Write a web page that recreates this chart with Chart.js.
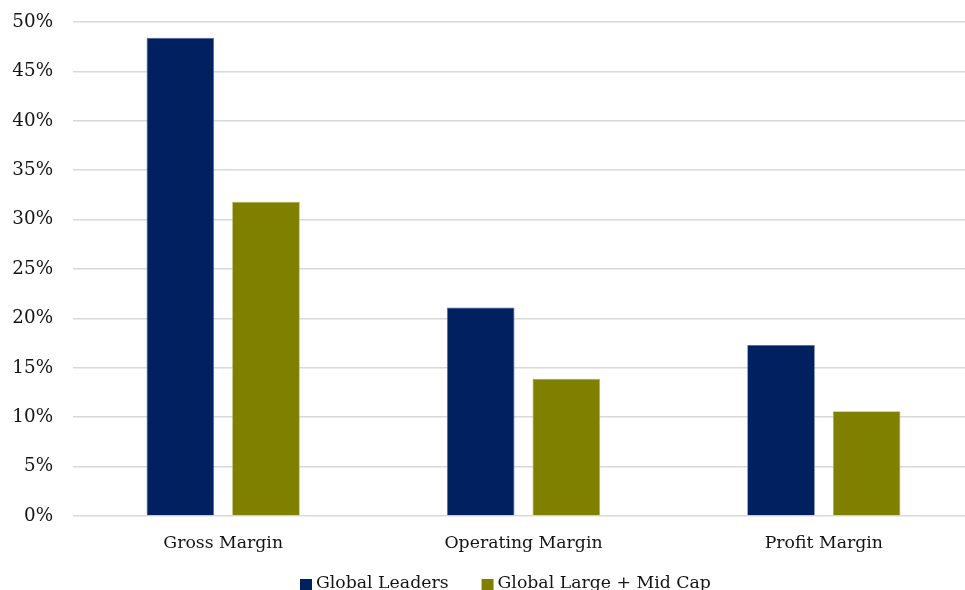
<!DOCTYPE html>
<html>
<head>
<meta charset="utf-8">
<script src="https://cdn.jsdelivr.net/npm/chart.js@4"></script>
<style>
  html, body { margin:0; padding:0; background:#fff; overflow:hidden; width:965px; height:590px; }
  #wrap { width:975px; height:590px; }
</style>
</head>
<body>
<div id="wrap"><canvas id="marginChart" width="975" height="590"></canvas></div>
<script>
const categories = ['Gross Margin', 'Operating Margin', 'Profit Margin'];
const leaders = [48.4, 21.1, 17.3];
const largeMid = [31.8, 13.9, 10.6];
const seriesNames = ['Global Leaders', 'Global Large + Mid Cap'];
const yTicks = [0, 5, 10, 15, 20, 25, 30, 35, 40, 45, 50];

const font = 'DejaVu Serif';
const navy = '#002060';
const olive = '#808000';
const ink = '#141414';

// legend drawn by hand at the bottom, clipped like the source
const bottomLegend = {
  id: 'bottomLegend',
  afterDraw(chart){
    const c = chart.ctx;
    c.save();
    c.font = `17.3px "${font}"`;
    c.textBaseline = 'alphabetic';
    let x = 300;
    chart.data.datasets.forEach(ds => {
      c.fillStyle = ds.backgroundColor;
      c.fillRect(x, 579, 12, 12);
      c.fillStyle = ink;
      c.fillText(ds.label, x + 16, 588);
      x += 16 + c.measureText(ds.label).width + 33;
    });
    c.restore();
  }
};

new Chart(document.getElementById('marginChart'), {
  type: 'bar',
  data: {
    labels: categories,
    datasets: [
      { label: seriesNames[0], data: leaders, backgroundColor: navy, borderColor: '#5a6f9c', borderWidth: 0.8 },
      { label: seriesNames[1], data: largeMid, backgroundColor: olive, borderColor: '#b3b352', borderWidth: 0.8 }
    ]
  },
  options: {
    responsive: false,
    animation: false,
    devicePixelRatio: 1,
    categoryPercentage: 0.57,
    barPercentage: 0.79,
    layout: { padding: { top: 22, right: 1, left: 0, bottom: 0 } },
    plugins: {
      legend: { display: false },
      tooltip: { enabled: false }
    },
    scales: {
      x: {
        grid: { display: false },
        border: { display: false },
        ticks: { color: ink, padding: 9, font: { family: font, size: 17.3 } },
        afterFit: (s) => { s.height = 74; s.paddingLeft = 0; s.paddingRight = 0; }
      },
      y: {
        min: 0,
        max: 50,
        afterBuildTicks: (s) => { s.ticks = yTicks.map(v => ({ value: v })); },
        grid: { color: '#d9d9d9', lineWidth: 1.5, drawTicks: false },
        border: { display: false },
        ticks: {
          color: ink,
          padding: 20,
          font: { family: font, size: 18.3 },
          callback: (v) => v + '%'
        },
        afterFit: (s) => { s.width = 73; s.paddingTop = 0; s.paddingBottom = 0; }
      }
    }
  },
  plugins: [bottomLegend]
});
</script>
</body>
</html>
